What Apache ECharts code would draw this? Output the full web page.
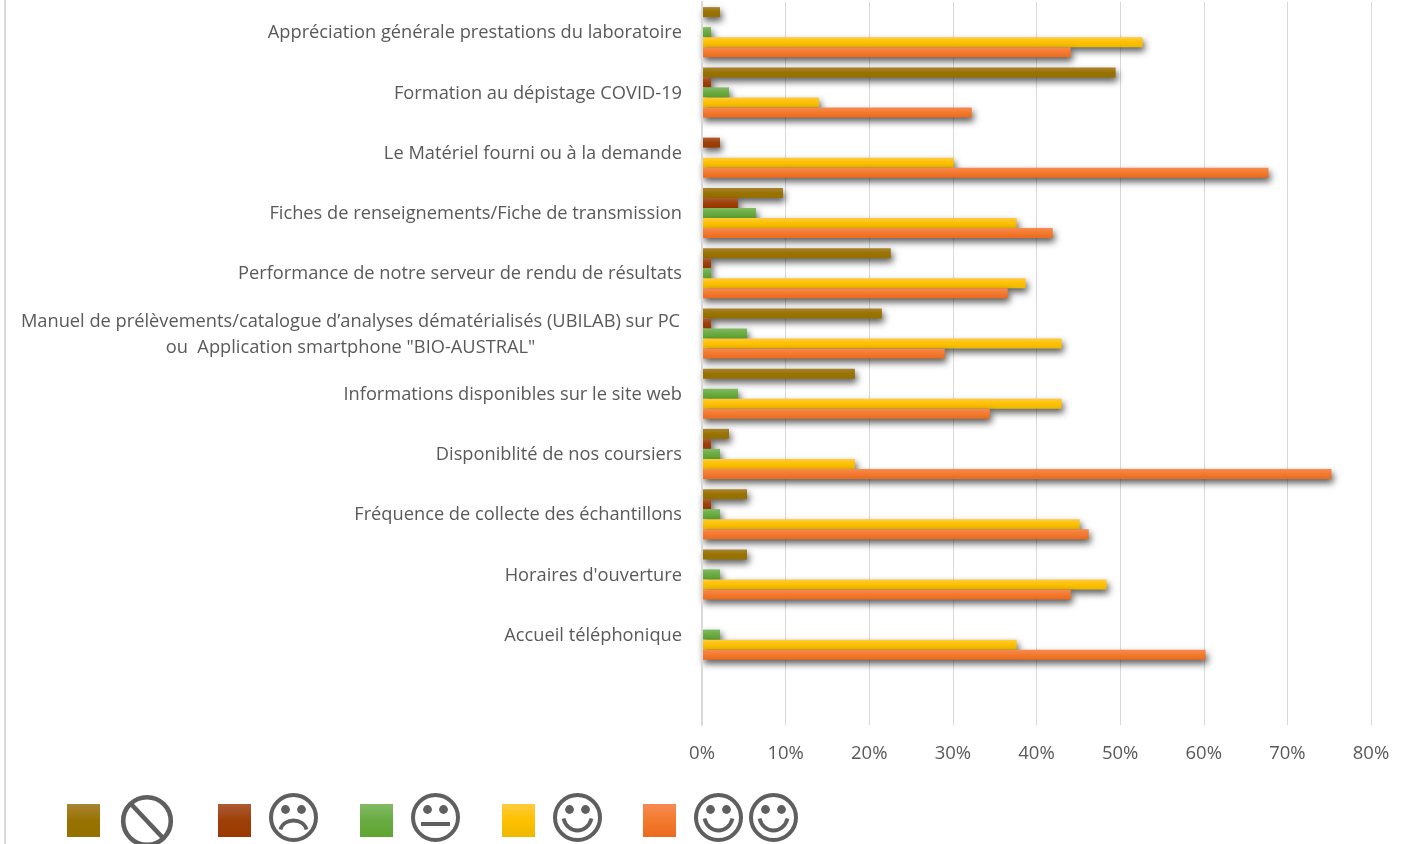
<!DOCTYPE html>
<html>
<head>
<meta charset="utf-8">
<script src="https://cdn.jsdelivr.net/npm/echarts@6/dist/echarts.min.js"></script>
<style>
  html, body { margin: 0; padding: 0; background: #fff; }
  #chart { width: 1411px; height: 844px; }
</style>
</head>
<body>
<div id="chart"></div>
<script>
// last category is empty on purpose, the original leaves a blank band above the axis
const categories = [
  'Appréciation générale prestations du laboratoire',
  'Formation au dépistage COVID-19',
  'Le Matériel fourni ou à la demande',
  'Fiches de renseignements/Fiche de transmission',
  'Performance de notre serveur de rendu de résultats',
  'Manuel de prélèvements/catalogue d’analyses dématérialisés (UBILAB) sur PC\nou  Application smartphone "BIO-AUSTRAL"',
  'Informations disponibles sur le site web',
  'Disponiblité de nos coursiers',
  'Fréquence de collecte des échantillons',
  "Horaires d'ouverture",
  'Accueil téléphonique',
  ''
];
const sansAvis     = [2.15, 49.46, 0, 9.68, 22.58, 21.51, 18.28, 3.23, 5.38, 5.38, 0, null];
const pasContent   = [0, 1.08, 2.15, 4.3, 1.08, 1.08, 0, 1.08, 1.08, 0, 0, null];
const neutre       = [1.08, 3.23, 0, 6.45, 1.08, 5.38, 4.3, 2.15, 2.15, 2.15, 2.15, null];
const content      = [52.69, 13.98, 30.11, 37.63, 38.71, 43.01, 43.01, 18.28, 45.16, 48.39, 37.63, null];
const tresContent  = [44.09, 32.26, 67.74, 41.94, 36.56, 29.03, 34.41, 75.27, 46.24, 44.09, 60.22, null];
const tickLabels = ['0%', '10%', '20%', '30%', '40%', '50%', '60%', '70%', '80%'];

const GREY = '#595959';
const ICON = '#5f5f5f';

function grad(top, mid, bottom) {
  return new echarts.graphic.LinearGradient(0, 0, 0, 1, [
    { offset: 0, color: top },
    { offset: 0.5, color: mid },
    { offset: 1, color: bottom }
  ]);
}

function barSeries(name, data, color) {
  return {
    name: name,
    type: 'bar',
    data: data.map(v => (v === 0 ? null : v)),
    barWidth: 10,
    barGap: 0,
    itemStyle: {
      color: color,
      shadowColor: 'rgba(0,0,0,0.65)',
      shadowBlur: 7,
      shadowOffsetX: 2,
      shadowOffsetY: 4
    }
  };
}

const seriesDefs = [
  barSeries('Sans avis', sansAvis, grad('#A98433', '#997300', '#967000')),
  barSeries('Pas content', pasContent, grad('#AC5C36', '#9E3F08', '#9A3A00')),
  barSeries('Neutre', neutre, grad('#82BA62', '#6AAB42', '#5FA431')),
  barSeries('Content', content, grad('#FFCB3D', '#FFC000', '#EDB800')),
  barSeries('Très content', tresContent, grad('#F68B52', '#F37A2E', '#EB6A1E'))
];

// one legend per swatch because the gaps are not even and the text is replaced by faces
const legendLefts = [67, 218, 360, 502, 643];
const legends = seriesDefs.map((s, i) => ({
  data: [s.name],
  left: legendLefts[i],
  top: 804,
  padding: 0,
  itemWidth: 33,
  itemHeight: 33,
  icon: 'rect',
  formatter: () => '',
  selectedMode: false,
  textStyle: { fontSize: 1 }
}));

function face(cx, cy, mouth) {
  const kids = [
    { type: 'circle', shape: { cx: cx, cy: cy, r: 22.5 }, style: { fill: 'none', stroke: ICON, lineWidth: 4 } },
    { type: 'circle', shape: { cx: cx - 8, cy: cy - 8, r: 4.4 }, style: { fill: ICON } },
    { type: 'circle', shape: { cx: cx + 8, cy: cy - 8, r: 4.4 }, style: { fill: ICON } }
  ];
  if (mouth === 'smile') {
    kids.push({
      type: 'bezierCurve',
      shape: { x1: cx - 14, y1: cy + 1, cpx1: cx - 10, cpy1: cy + 17, cpx2: cx + 10, cpy2: cy + 17, x2: cx + 14, y2: cy + 1 },
      style: { fill: 'none', stroke: ICON, lineWidth: 3.8 }
    });
  } else if (mouth === 'sad') {
    kids.push({
      type: 'bezierCurve',
      shape: { x1: cx - 13, y1: cy + 12, cpx1: cx - 10, cpy1: cy, cpx2: cx + 10, cpy2: cy, x2: cx + 13, y2: cy + 12 },
      style: { fill: 'none', stroke: ICON, lineWidth: 3.8 }
    });
  } else {
    kids.push({ type: 'rect', shape: { x: cx - 14.5, y: cy + 4.5, width: 29, height: 4 }, style: { fill: ICON } });
  }
  return { type: 'group', silent: true, children: kids };
}

const faces = [
  {
    type: 'group',
    silent: true,
    children: [
      { type: 'circle', shape: { cx: 147, cy: 821, r: 23.8 }, style: { fill: 'none', stroke: ICON, lineWidth: 4.6 } },
      { type: 'line', shape: { x1: 131, y1: 804, x2: 163, y2: 838 }, style: { stroke: ICON, lineWidth: 4.6 } }
    ]
  },
  face(293.5, 817.5, 'sad'),
  face(435.5, 817.5, 'flat'),
  face(577.5, 817.5, 'smile'),
  face(718.5, 817.5, 'smile'),
  face(773.5, 817.5, 'smile')
];

const chart = echarts.init(document.getElementById('chart'), null, { renderer: 'canvas' });

chart.setOption({
  animation: false,
  backgroundColor: '#fff',
  textStyle: { fontFamily: '"Open Sans", Lato, sans-serif' },
  legend: legends,
  grid: { left: 702, top: 2, width: 669, height: 723, containLabel: false },
  xAxis: {
    type: 'value',
    min: 0,
    max: 80,
    interval: 10,
    axisLine: { show: false },
    axisTick: { show: false },
    splitLine: { show: true, lineStyle: { color: '#D9D9D9', width: 1 } },
    axisLabel: {
      color: GREY,
      fontSize: 18.5,
      margin: 19,
      formatter: (v) => tickLabels[v / 10]
    }
  },
  yAxis: {
    type: 'category',
    inverse: true,
    z: 5,
    data: categories,
    axisTick: { show: false },
    axisLine: { show: true, lineStyle: { color: '#D9D9D9', width: 2 } },
    axisLabel: {
      margin: 20,
      interval: 0,
      padding: [2, 0, 0, 0],
      formatter: (v) => {
        const lines = v.split('\n');
        // the two line label is centred on itself, the others just sit right
        if (lines.length > 1) return lines.map(l => `{c|${l}}`).join('\n');
        return v;
      },
      color: GREY,
      fontSize: 18.25,
      rich: {
        c: { width: 663, align: 'center', color: GREY, fontSize: 18.25, lineHeight: 26 }
      }
    }
  },
  graphic: [
    // thin frame edge at the far left of the original
    { type: 'rect', silent: true, shape: { x: 4, y: 0, width: 2, height: 844 }, style: { fill: '#D9D9D9' } }
  ].concat(faces),
  series: seriesDefs
});
</script>
</body>
</html>
